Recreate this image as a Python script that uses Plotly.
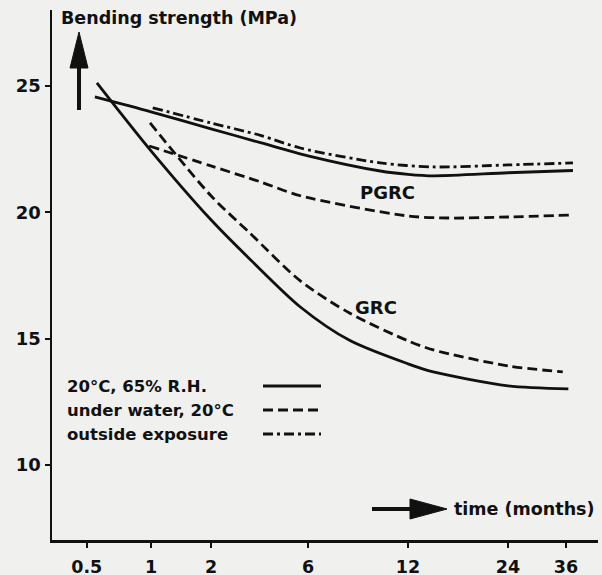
import numpy as np
import plotly.graph_objects as go

# ---------------- data ----------------
tick_months = [0.5, 1, 2, 6, 12, 24, 36]
tick_labels = ["0.5", "1", "2", "6", "12", "24", "36"]
y_ticks = [10, 15, 20, 25]

# PGRC
pgrc_air_months = [0.546, 1, 2, 3.5, 6, 9.9, 12, 14.3, 24, 37.8]
pgrc_air = [24.56, 23.97, 23.30, 22.75, 22.23, 21.63, 21.50, 21.44, 21.56, 21.65]

pgrc_water_months = [0.98, 2, 3.5, 5.5, 12, 16, 24, 37.8]
pgrc_water = [22.62, 21.83, 21.20, 20.65, 19.85, 19.77, 19.81, 19.89]

pgrc_out_months = [1.02, 2, 3.5, 5.5, 9.9, 14.3, 24, 37.8]
pgrc_out = [24.13, 23.53, 23.04, 22.54, 21.95, 21.79, 21.87, 21.95]

# GRC
grc_air_months = [0.558, 1, 2, 3.1, 5.5, 8, 12, 14.3, 24, 36.6]
grc_air = [25.12, 22.43, 19.70, 18.15, 16.25, 14.93, 14.00, 13.68, 13.13, 13.01]

grc_water_months = [0.99, 2, 3.1, 5.5, 8, 12, 14.3, 24, 35.2]
grc_water = [23.53, 20.65, 19.18, 17.28, 16.01, 14.91, 14.55, 13.92, 13.68]

legend_labels = ["20°C, 65% R.H.", "under water, 20°C", "outside exposure"]

# ---------------- the time scale of the original axis ----------------
# the original time axis is neither linear nor logarithmic; tick spacing
# is reproduced and intermediate months are placed log-proportionally.
_TICK_POS = np.array([0.0, 1.0, 1.933, 3.442, 4.997, 6.552, 7.454])
_TICK_LOG = np.log(np.array(tick_months, dtype=float))


def tpos(months):
    lm = np.log(np.asarray(months, dtype=float))
    out = np.interp(lm, _TICK_LOG, _TICK_POS)
    lo = lm < _TICK_LOG[0]
    hi = lm > _TICK_LOG[-1]
    s0 = (_TICK_POS[1] - _TICK_POS[0]) / (_TICK_LOG[1] - _TICK_LOG[0])
    s1 = (_TICK_POS[-1] - _TICK_POS[-2]) / (_TICK_LOG[-1] - _TICK_LOG[-2])
    out[lo] = _TICK_POS[0] + (lm[lo] - _TICK_LOG[0]) * s0
    out[hi] = _TICK_POS[-1] + (lm[hi] - _TICK_LOG[-1]) * s1
    return out


# ---------------- styling ----------------
FONT = "DejaVu Sans"
BG = "#f0f0ee"
INK = "#111111"
W, H = 602, 575
ML, MR, MT, MB = 52, 4, 10, 35
PW, PH = W - ML - MR, H - MT - MB

SOLID = "solid"
DASH = "10px,5px"
DASHDOT = "10px,4px,3px,4px"
LW = 2.8


def px(x):
    return (x - ML) / PW


def py(y):
    return (MT + PH - y) / PH


fig = go.Figure()

series = [
    (pgrc_air_months, pgrc_air, SOLID),
    (pgrc_water_months, pgrc_water, DASH),
    (pgrc_out_months, pgrc_out, DASHDOT),
    (grc_air_months, grc_air, SOLID),
    (grc_water_months, grc_water, DASH),
]
for m, v, d in series:
    fig.add_trace(go.Scatter(
        x=tpos(m), y=v, mode="lines",
        line=dict(color=INK, width=LW, dash=d, shape="spline", smoothing=0.8),
        showlegend=False, hoverinfo="skip",
    ))

annotations = []
shapes = []

# y-axis title with up arrow
annotations.append(dict(x=px(59), y=py(18), xref="paper", yref="paper",
                        text="<b>Bending strength (MPa)</b>", showarrow=False,
                        xanchor="left", yanchor="middle",
                        font=dict(family=FONT, size=17.5, color=INK)))
shapes.append(dict(type="line", xref="paper", yref="paper",
                   x0=px(79), x1=px(79), y0=py(110), y1=py(62),
                   line=dict(color=INK, width=4)))
shapes.append(dict(type="path", xref="paper", yref="paper",
                   path=f"M {px(79)} {py(32)} L {px(70)} {py(68)} L {px(88)} {py(68)} Z",
                   fillcolor=INK, line=dict(color=INK, width=1)))

# x-axis title with right arrow
shapes.append(dict(type="line", xref="paper", yref="paper",
                   x0=px(372), x1=px(416), y0=py(509), y1=py(509),
                   line=dict(color=INK, width=4)))
shapes.append(dict(type="path", xref="paper", yref="paper",
                   path=f"M {px(447)} {py(509)} L {px(410)} {py(499)} L {px(410)} {py(519)} Z",
                   fillcolor=INK, line=dict(color=INK, width=1)))
annotations.append(dict(x=px(452), y=py(509), xref="paper", yref="paper",
                        text="<b>time (months)</b>", showarrow=False,
                        xanchor="left", yanchor="middle",
                        font=dict(family=FONT, size=17.5, color=INK)))

# curve group labels
annotations.append(dict(x=px(387), y=py(192), xref="paper", yref="paper",
                        text="<b>PGRC</b>", showarrow=False,
                        font=dict(family=FONT, size=18, color=INK)))
annotations.append(dict(x=px(376), y=py(307), xref="paper", yref="paper",
                        text="<b>GRC</b>", showarrow=False,
                        font=dict(family=FONT, size=18, color=INK)))

# hand-made legend (text left, sample right)
rows_y = [386, 410, 434]
for lab, ry, d in zip(legend_labels, rows_y, [SOLID, DASH, DASHDOT]):
    annotations.append(dict(x=px(65), y=py(ry), xref="paper", yref="paper",
                            text=f"<b>{lab}</b>", showarrow=False,
                            xanchor="left", yanchor="middle",
                            font=dict(family=FONT, size=16.5, color=INK)))
    shapes.append(dict(type="line", xref="paper", yref="paper",
                       x0=px(263), x1=px(321), y0=py(ry), y1=py(ry),
                       line=dict(color=INK, width=LW, dash=d)))

x_left = tpos([0.5])[0] - (86.7 - 52) / 64.3
x_right = tpos([0.5])[0] + (598 - 86.7) / 64.3

fig.update_layout(
    width=W, height=H,
    margin=dict(l=ML, r=MR, t=MT, b=MB, autoexpand=False),
    paper_bgcolor=BG, plot_bgcolor=BG,
    font=dict(family=FONT, color=INK),
    annotations=annotations, shapes=shapes,
    xaxis=dict(
        range=[x_left, x_right],
        tickmode="array", tickvals=tpos(tick_months),
        ticktext=[f"<b>{t}</b>" for t in tick_labels],
        showline=True, linecolor=INK, linewidth=2.5,
        ticks="outside", ticklen=5, tickwidth=2, tickcolor=INK,
        ticklabelstandoff=4,
        showgrid=False, zeroline=False,
        tickfont=dict(family=FONT, size=17.5, color=INK),
    ),
    yaxis=dict(
        range=[7.03, 28.0],
        tickmode="array", tickvals=y_ticks,
        ticktext=[f"<b>{t}</b>" for t in y_ticks],
        showline=True, linecolor=INK, linewidth=2.5,
        ticks="outside", ticklen=5, tickwidth=2, tickcolor=INK,
        showgrid=False, zeroline=False,
        tickfont=dict(family=FONT, size=18, color=INK),
    ),
)

fig.write_html(
    "out.html",
    config={"displayModeBar": False, "staticPlot": True},
    post_script="document.body.style.margin='0';document.body.style.background='#f0f0ee';",
)
